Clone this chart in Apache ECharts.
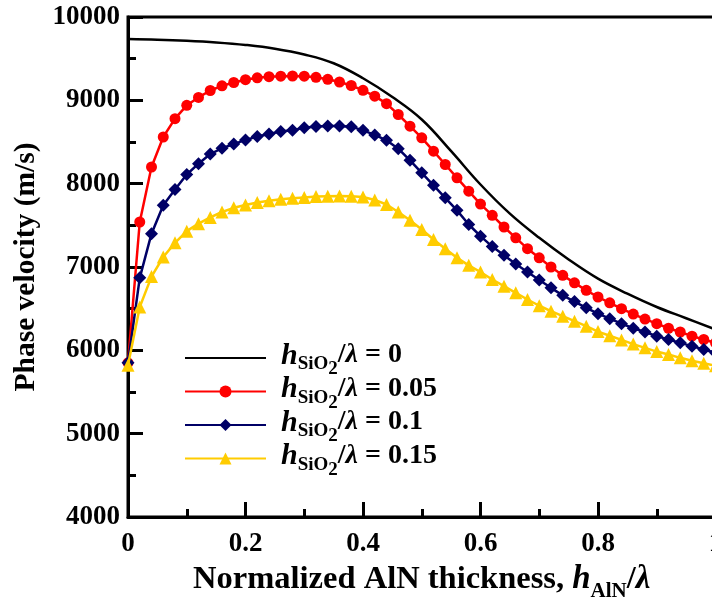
<!DOCTYPE html>
<html><head><meta charset="utf-8">
<script src="https://cdn.jsdelivr.net/npm/echarts@6/dist/echarts.min.js"></script>
<style>html,body{margin:0;padding:0;background:#fff}#c{width:712px;height:602px}</style>
</head><body><div id="c"></div>
<script>
// Normalized AlN thickness (h_AlN / lambda)
const xThick = [0,0.02,0.04,0.06,0.08,0.10,0.12,0.14,0.16,0.18,0.20,0.22,0.24,0.26,0.28,0.30,0.32,0.34,0.36,0.38,0.40,0.42,0.44,0.46,0.48,0.50,0.52,0.54,0.56,0.58,0.60,0.62,0.64,0.66,0.68,0.70,0.72,0.74,0.76,0.78,0.80,0.82,0.84,0.86,0.88,0.90,0.92,0.94,0.96,0.98,1.00];
// h_SiO2/lambda = 0 (sampled coarser)
const xThick0 = [0,0.05,0.10,0.15,0.20,0.25,0.30,0.35,0.40,0.45,0.50,0.55,0.60,0.65,0.70,0.75,0.80,0.85,0.90,0.95,1.00];
const v000 = [9735,9728,9715,9695,9665,9620,9550,9445,9265,9040,8770,8390,7990,7640,7350,7090,6860,6680,6520,6385,6250];
// h_SiO2/lambda = 0.05
const v005 = [5850,7540,8200,8560,8780,8940,9035,9118,9174,9214,9248,9270,9284,9290,9292,9290,9276,9252,9220,9178,9120,9050,8960,8830,8690,8550,8390,8230,8070,7910,7755,7620,7480,7350,7220,7110,7000,6900,6810,6720,6640,6570,6500,6435,6375,6320,6265,6220,6170,6130,6090];
// h_SiO2/lambda = 0.1
const v010 = [5850,6870,7400,7740,7930,8110,8240,8355,8425,8475,8525,8565,8595,8625,8640,8670,8685,8692,8692,8684,8640,8585,8520,8420,8280,8130,7980,7830,7680,7510,7370,7245,7140,7035,6940,6845,6750,6660,6585,6510,6440,6380,6320,6265,6220,6170,6130,6090,6050,6010,5970];
// h_SiO2/lambda = 0.15
const v015 = [5820,6520,6885,7120,7290,7430,7520,7595,7660,7710,7745,7775,7795,7812,7825,7835,7845,7850,7852,7850,7840,7805,7750,7660,7560,7450,7330,7220,7110,7020,6940,6850,6770,6690,6610,6535,6470,6410,6350,6290,6225,6175,6125,6075,6030,5985,5950,5910,5875,5845,5815];
const seriesNames = ['0','0.05','0.1','0.15'];
const xTicks = [0,0.2,0.4,0.6,0.8,1];
const yTicks = [4000,5000,6000,7000,8000,9000,10000];

const F = '"Liberation Serif","Times New Roman",serif';
const pairs = (xs, ys) => xs.map((x, i) => [x, ys[i]]);

const base = {fontFamily:F, fontWeight:'bold', color:'#000', verticalAlign:'top'};
const legendRich = {
  h: Object.assign({}, base, {fontStyle:'italic', fontSize:30, lineHeight:34}),
  s: Object.assign({}, base, {fontSize:19, lineHeight:34, padding:[14,0,0,0]}),
  s2: Object.assign({}, base, {fontSize:19, lineHeight:34, padding:[19,0,0,0]}),
  l: Object.assign({}, base, {fontStyle:'italic', fontSize:28, lineHeight:34}),
  t: Object.assign({}, base, {fontSize:28, lineHeight:34})
};
const xNameRich = {
  t: Object.assign({}, base, {fontSize:32.5, lineHeight:38}),
  h: Object.assign({}, base, {fontStyle:'italic', fontSize:33, lineHeight:38}),
  s: Object.assign({}, base, {fontSize:21, lineHeight:38, padding:[18,0,0,0]})
};

const chart = echarts.init(document.getElementById('c'), null, {renderer:'canvas'});
const tickStyle = {color:'#000', width:3};
chart.setOption({
  animation:false,
  backgroundColor:'#fff',
  grid:{left:128, top:17, width:587.5, height:500, outerBoundsMode:'none', containLabel:false,
        show:true, borderColor:'#000', borderWidth:3, backgroundColor:'transparent'},
  legend:{
    orient:'vertical', left:179, top:336, itemWidth:81, itemHeight:15, itemGap:-4.5,
    data: [{name:'0', itemStyle:{opacity:0}}, '0.05', '0.1', '0.15'],
    formatter: n => '{h|h}{s|SiO}{s2|2}{t|/}{l|λ}{t| = ' + n + '}',
    textStyle:{padding:[0,0,0,10], rich:legendRich}
  },
  xAxis:{
    type:'value', min:xTicks[0], max:xTicks[xTicks.length-1], interval:0.2,
    axisLine:{lineStyle:tickStyle},
    axisTick:{inside:true, length:15, lineStyle:tickStyle},
    minorTick:{show:true, splitNumber:2, length:8, lineStyle:tickStyle},
    splitLine:{show:false}, minorSplitLine:{show:false},
    axisLabel:{fontFamily:F, fontWeight:'bold', fontSize:27, color:'#000', margin:14},
    name:'{t|Normalized AlN thickness, }{h|h}{s|AlN}{t|/}{h|λ}',
    nameLocation:'middle', nameGap:44,
    nameTextStyle:{rich:xNameRich}
  },
  yAxis:{
    type:'value', min:yTicks[0], max:yTicks[yTicks.length-1], interval:1000,
    axisLine:{lineStyle:tickStyle},
    axisTick:{inside:true, length:15, lineStyle:tickStyle},
    minorTick:{show:true, splitNumber:2, length:8, lineStyle:tickStyle},
    splitLine:{show:false}, minorSplitLine:{show:false},
    axisLabel:{fontFamily:F, fontWeight:'bold', fontSize:27, color:'#000', margin:8,
               formatter: v => String(v)},
    name:'Phase velocity (m/s)', nameLocation:'middle', nameGap:82, nameRotate:90,
    nameTextStyle:{fontFamily:F, fontWeight:'bold', fontSize:29.5, color:'#000'}
  },
  series:[
    {name:'0', type:'line', data:pairs(xThick0, v000), smooth:0.4, symbol:'none',
     lineStyle:{color:'#000', width:2.5}, itemStyle:{color:'#000'}, z:2},
    {name:'0.05', type:'line', data:pairs(xThick, v005), symbol:'circle', symbolSize:11,
     lineStyle:{color:'#ff0000', width:2.5}, itemStyle:{color:'#ff0000'}, z:3},
    {name:'0.1', type:'line', data:pairs(xThick, v010), symbol:'diamond', symbolSize:13,
     lineStyle:{color:'#000066', width:2.5}, itemStyle:{color:'#000066'}, z:4},
    {name:'0.15', type:'line', data:pairs(xThick, v015), symbol:'triangle', symbolSize:13,
     lineStyle:{color:'#ffcc00', width:2.5}, itemStyle:{color:'#ffcc00'}, z:5}
  ]
});
</script></body></html>
